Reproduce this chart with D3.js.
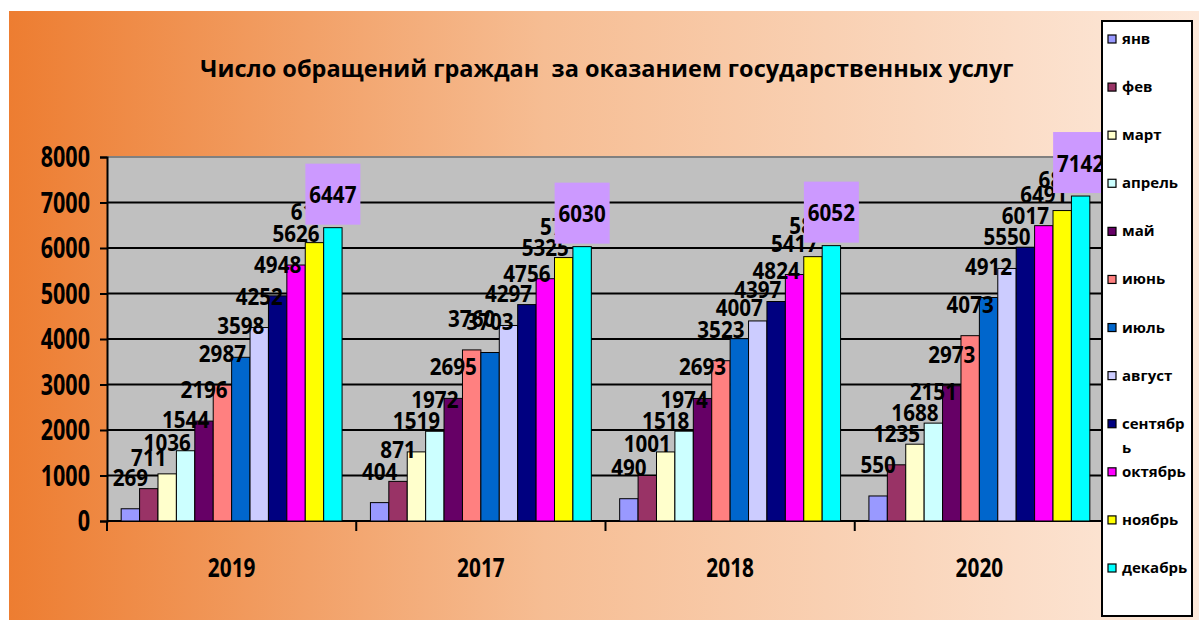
<!DOCTYPE html>
<html><head><meta charset="utf-8">
<script src="https://cdn.jsdelivr.net/npm/d3@7/dist/d3.min.js"></script>
<style>
html,body{margin:0;padding:0;background:#fff;}
svg{display:block;}
text{font-family:"Open Sans","DejaVu Sans",sans-serif;font-weight:700;fill:#000;white-space:pre;}
</style></head>
<body>
<svg id="chart" width="1199" height="621"></svg>
<script>
const title = "Число обращений граждан  за оказанием государственных услуг";
const years = ["2019", "2017", "2018", "2020"];
const months = ["янв","фев","март","апрель","май","июнь","июль","август","сентябрь","октябрь","ноябрь","декабрь"];
const legendLabels = ["янв","фев","март","апрель","май","июнь","июль","август","сентябр\nь","октябрь","ноябрь","декабрь"];
const colors = ["#9999FF","#993366","#FFFFCC","#CCFFFF","#660066","#FF8080","#0066CC","#CCCCFF","#000080","#FF00FF","#FFFF00","#00FFFF"];
const values2019 = [269, 711, 1036, 1544, 2196, 2987, 3598, 4252, 4948, 5626, 6118, 6447];
const values2017 = [404, 871, 1519, 1972, 2695, 3760, 3703, 4297, 4756, 5325, 5790, 6030];
const values2018 = [490, 1001, 1518, 1974, 2693, 3523, 4007, 4397, 4824, 5417, 5810, 6052];
const values2020 = [550, 1235, 1688, 2151, 2973, 4073, 4912, 5550, 6017, 6491, 6823, 7142];
const yTicks = [0, 1000, 2000, 3000, 4000, 5000, 6000, 7000, 8000];

const valuesByYear = {"2019": values2019, "2017": values2017, "2018": values2018, "2020": values2020};

const svg = d3.select("#chart");
const W = 1199, H = 621;
const plot = {left: 107, right: 1104, top: 157, bottom: 521};

// background gradient
const defs = svg.append("defs");
const grad = defs.append("linearGradient").attr("id", "bg").attr("x1", "0").attr("x2", "1").attr("y1", "0").attr("y2", "0");
grad.append("stop").attr("offset", "0").attr("stop-color", "#ED7D31");
grad.append("stop").attr("offset", "0.45").attr("stop-color", "#F6BD93");
grad.append("stop").attr("offset", "1").attr("stop-color", "#FDE9DB");
svg.append("rect").attr("x", 9).attr("y", 11).attr("width", W - 9).attr("height", 609).attr("fill", "url(#bg)");

// scales
const x0 = d3.scaleBand().domain(years).range([plot.left, plot.right]).padding(0);
const x1 = d3.scaleBand().domain(months).range([0, x0.bandwidth()]).paddingInner(0).paddingOuter(0.77);
const y = d3.scaleLinear().domain([0, 8000]).range([plot.bottom, plot.top]);

// condensed text helper
function ctext(parent, x, yy, str, size, sx, anchor) {
  const g = parent.append("g").attr("transform", `translate(${x},${yy})`);
  g.append("text").attr("transform", `scale(${sx},1)`)
    .attr("font-size", size).attr("text-anchor", anchor || "middle").text(str);
  return g;
}

// plot area
svg.append("rect").attr("x", plot.left).attr("y", plot.top)
  .attr("width", plot.right - plot.left).attr("height", plot.bottom - plot.top)
  .attr("fill", "#C0C0C0");

// gridlines
svg.append("g").selectAll("line").data(yTicks.filter(d => d > 0 && d < 8000)).join("line")
  .attr("x1", plot.left).attr("x2", plot.right)
  .attr("y1", d => y(d)).attr("y2", d => y(d))
  .attr("stroke", "#000").attr("stroke-width", 2);
svg.append("line").attr("x1", plot.left).attr("x2", plot.right)
  .attr("y1", y(8000)).attr("y2", y(8000)).attr("stroke", "#808080").attr("stroke-width", 2);

// y axis
const yAxis = d3.axisLeft(y).tickValues(yTicks).tickSize(7).tickFormat("");
const yg = svg.append("g").attr("transform", `translate(${plot.left},0)`).call(yAxis);
yg.selectAll("path,line").attr("stroke", "#000").attr("stroke-width", 2);
yTicks.forEach(v => ctext(svg, 90, y(v) + 10, String(v), 28, 0.77, "end"));

// x axis
svg.append("line").attr("x1", plot.left).attr("x2", plot.right)
  .attr("y1", plot.bottom).attr("y2", plot.bottom).attr("stroke", "#000").attr("stroke-width", 2);
const bounds = years.map(d => x0(d)).concat([plot.right]);
svg.append("g").selectAll("line").data(bounds).join("line")
  .attr("x1", d => d).attr("x2", d => d).attr("y1", plot.bottom).attr("y2", plot.bottom + 10)
  .attr("stroke", "#000").attr("stroke-width", 2);
years.forEach(yr => ctext(svg, x0(yr) + x0.bandwidth() / 2, 577, yr, 27, 0.77, "middle"));

// bars
const groups = svg.append("g").selectAll("g").data(years).join("g")
  .attr("transform", d => `translate(${x0(d)},0)`);
groups.selectAll("rect").data(yr => valuesByYear[yr].map((v, i) => ({m: months[i], v, i}))).join("rect")
  .attr("x", d => x1(d.m)).attr("width", x1.bandwidth())
  .attr("y", d => y(d.v)).attr("height", d => y(0) - y(d.v))
  .attr("fill", d => colors[d.i]).attr("stroke", "#000").attr("stroke-width", 1);

// labels, in series order
const lab = svg.append("g");
months.forEach((m, i) => {
  years.forEach(yr => {
    const v = valuesByYear[yr][i];
    const cx = x0(yr) + x1(m) + x1.bandwidth() / 2;
    const top = y(v);
    if (i === months.length - 1) {
      const bw = 55, bh = 61;
      lab.append("rect").attr("x", cx - bw / 2).attr("y", top - 3 - bh)
        .attr("width", bw).attr("height", bh).attr("fill", "#CC99FF");
      ctext(lab, cx, top - 3 - bh / 2 + 9, String(v), 24, 0.86, "middle");
    } else {
      ctext(lab, cx, top - 23, String(v), 24, 0.86, "middle");
    }
  });
});

// title
ctext(svg, 607, 77, title, 24, 0.98, "middle");

// legend
const leg = svg.append("g");
leg.append("rect").attr("x", 1102).attr("y", 21).attr("width", 90).attr("height", 595)
  .attr("fill", "#fff").attr("stroke", "#000").attr("stroke-width", 2);
const ly = d3.scalePoint().domain(months).range([39, 568]);
months.forEach((m, i) => {
  const yy = ly(m);
  leg.append("rect").attr("x", 1108).attr("y", yy - 4).attr("width", 8).attr("height", 8)
    .attr("fill", colors[i]).attr("stroke", "#000").attr("stroke-width", 1.2);
  const parts = legendLabels[i].split("\n");
  parts.forEach((p, k) => {
    leg.append("text").attr("x", 1122).attr("y", yy + 5 + k * 24).attr("font-size", 15).text(p);
  });
});
</script>
</body></html>
